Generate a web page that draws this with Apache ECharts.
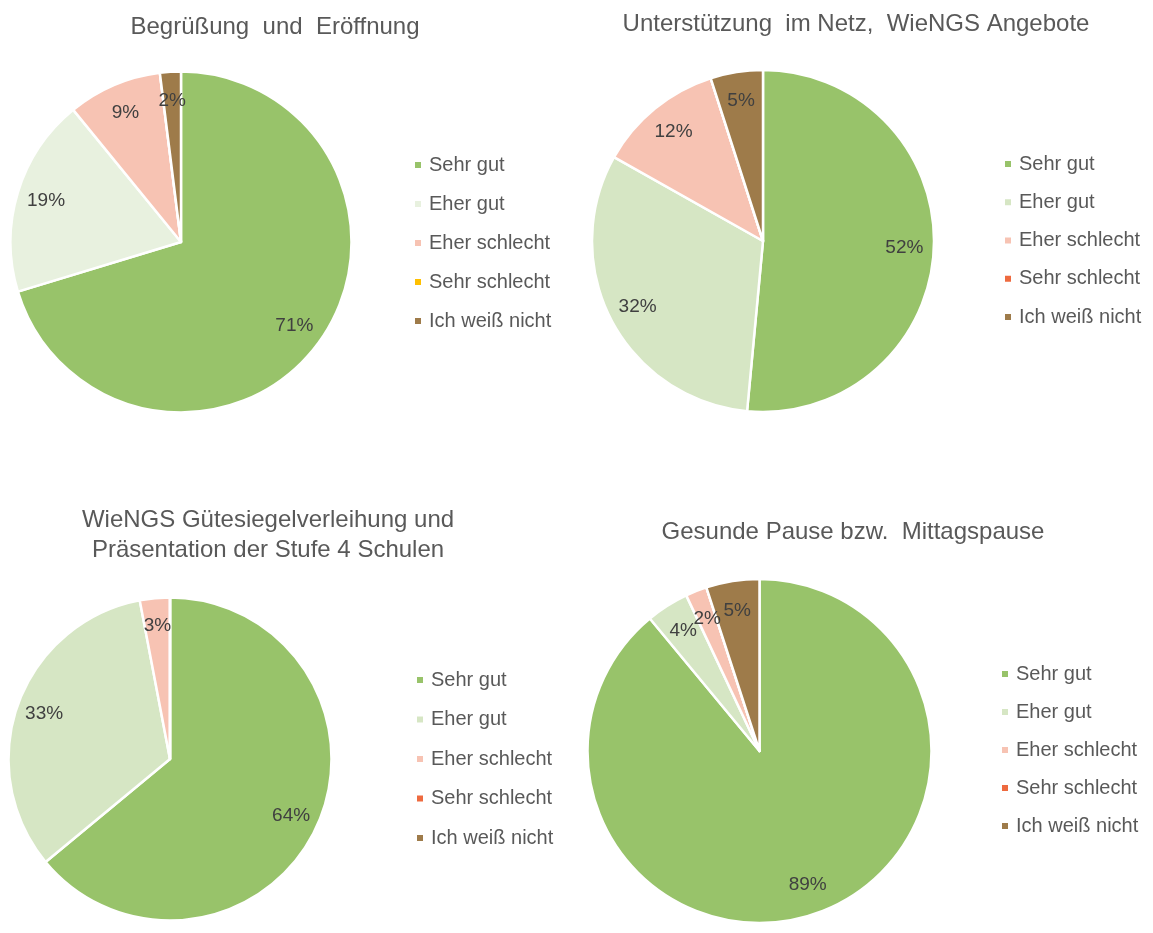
<!DOCTYPE html>
<html>
<head>
<meta charset="utf-8">
<script src="https://cdn.jsdelivr.net/npm/echarts@6/dist/echarts.min.js"></script>
<style>
html,body{margin:0;padding:0;background:#fff;}
.c{position:absolute;}
</style>
</head>
<body>
<div id="c1" class="c" style="left:0;top:0;width:576px;height:466px"></div>
<div id="c2" class="c" style="left:576px;top:0;width:577px;height:466px"></div>
<div id="c3" class="c" style="left:0;top:466px;width:576px;height:467px"></div>
<div id="c4" class="c" style="left:576px;top:466px;width:577px;height:467px"></div>
<script>
const categories = ['Sehr gut', 'Eher gut', 'Eher schlecht', 'Sehr schlecht', 'Ich weiß nicht'];
const titles = [
  'Begrüßung  und  Eröffnung',
  'Unterstützung  im Netz,  WieNGS Angebote',
  'WieNGS Gütesiegelverleihung und\nPräsentation der Stufe 4 Schulen',
  'Gesunde Pause bzw.  Mittagspause'
];
const valuesBegruessung = [71, 19, 9, 0, 2];
const valuesUnterstuetzung = [52, 32, 12, 0, 5];
const valuesGuetesiegel = [64, 33, 3, 0, 0];
const valuesPause = [89, 4, 2, 0, 5];
const colors1 = ['#98C36A', '#E8F1DF', '#F7C3B3', '#FFC000', '#9E7B4A'];
const colorsOther = ['#98C36A', '#D6E6C4', '#F7C3B3', '#EE6A3F', '#9E7B4A'];

const layouts = [
  {el:'c1', values: valuesBegruessung, colors: colors1, cx:181, cy:242, r:170.5, tx:270, ty:7, lx:408, ly:149, gap:17},
  {el:'c2', values: valuesUnterstuetzung, colors: colorsOther, cx:187, cy:241, r:171, tx:275, ty:4, lx:422, ly:148, gap:16.25},
  {el:'c3', values: valuesGuetesiegel, colors: colorsOther, cx:170, cy:293, r:161.5, tx:263, ty:34, lx:410, ly:198, gap:17.5},
  {el:'c4', values: valuesPause, colors: colorsOther, cx:183.5, cy:285, r:172, tx:272, ty:46, lx:419, ly:192, gap:16}
];

layouts.forEach((L, i) => {
  const chart = echarts.init(document.getElementById(L.el));
  const data = categories.map((n, k) => ({name: n, value: L.values[k], itemStyle: {color: L.colors[k]}}));
  const labelData = categories.map((n, k) => ({name: n, value: L.values[k]}));
  chart.setOption({
    animation: false,
    title: {
      text: titles[i],
      left: L.tx, top: L.ty,
      textAlign: 'center',
      textStyle: {fontFamily: 'Liberation Sans, Arial', fontSize: 24, fontWeight: 'normal', color: '#595959', lineHeight: 30}
    },
    legend: {
      orient: 'vertical',
      left: L.lx, top: L.ly,
      data: categories,
      icon: 'rect',
      itemWidth: 8, itemHeight: 8,
      itemGap: L.gap,
      selectedMode: false,
      textStyle: {fontFamily: 'Liberation Sans, Arial', fontSize: 20, color: '#595959', lineHeight: 22, padding: [0,0,0,2]}
    },
    series: [
      {
        type: 'pie',
        center: [L.cx, L.cy],
        radius: [0, L.r],
        startAngle: 90,
        clockwise: true,
        silent: true,
        label: {show: false},
        labelLine: {show: false},
        itemStyle: {borderColor: '#fff', borderWidth: 2.5},
        data: data
      },
      {
        type: 'pie',
        center: [L.cx, L.cy],
        radius: [L.r * 0.62, L.r],
        startAngle: 90,
        clockwise: true,
        silent: true,
        avoidLabelOverlap: false,
        minShowLabelAngle: 0,
        labelLayout: {hideOverlap: false},
        legendHoverLink: false,
        itemStyle: {color: 'rgba(0,0,0,0)', borderWidth: 0},
        label: {
          show: true, position: 'inside',
          fontFamily: 'Liberation Sans, Arial', fontSize: 19, color: '#404040',
          formatter: p => p.value > 0 ? p.value + '%' : ''
        },
        labelLine: {show: false},
        data: labelData
      }
    ]
  });
});
</script>
</body>
</html>
